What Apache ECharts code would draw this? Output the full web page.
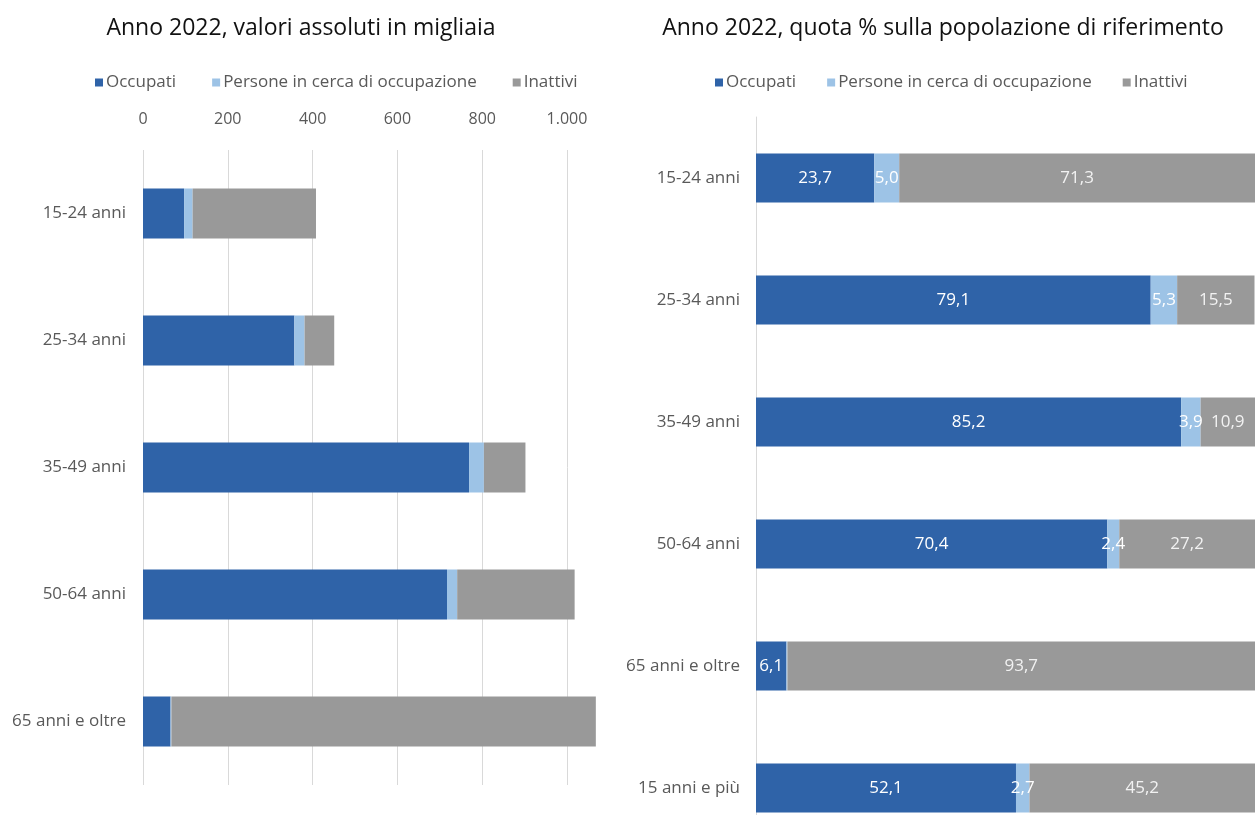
<!DOCTYPE html>
<html>
<head>
<meta charset="utf-8">
<script src="https://cdn.jsdelivr.net/npm/echarts@6/dist/echarts.min.js"></script>
<style>
  html, body { margin: 0; padding: 0; background: #ffffff; overflow: hidden; }
  #chart { width: 1255px; height: 860px; }
</style>
</head>
<body>
<div id="chart"></div>
<script>
// Age classes
const absCategories = ['15-24 anni', '25-34 anni', '35-49 anni', '50-64 anni', '65 anni e oltre'];
const pctCategories = ['15-24 anni', '25-34 anni', '35-49 anni', '50-64 anni', '65 anni e oltre', '15 anni e più'];

// Absolute values, thousands
const absOccupati = [97, 357, 769, 717, 65];
const absCerca = [20, 24, 35, 24, 2];
const absInattivi = [291, 70, 98, 277, 1001];

// Share of reference population, %
const pctOccupati = [23.7, 79.1, 85.2, 70.4, 6.1, 52.1];
const pctCerca = [5.0, 5.3, 3.9, 2.4, 0.2, 2.7];
const pctInattivi = [71.3, 15.5, 10.9, 27.2, 93.7, 45.2];

const absTicks = [0, 200, 400, 600, 800, 1000];
const seriesNames = ['Occupati', 'Persone in cerca di occupazione', 'Inattivi'];

const colors = ['#2f63a8', '#9dc3e6', '#999999'];
const labelColors = ['#ffffff', '#ffffff', '#f2f2f2'];
const FONT = '"Open Sans", "Noto Sans", sans-serif';
const textGrey = '#595959';

const itNumber = v => {
  const s = String(Math.round(v));
  return s.replace(/\B(?=(\d{3})+(?!\d))/g, '.');
};
const itDecimal = v => v.toFixed(1).replace('.', ',');

const chart = echarts.init(document.getElementById('chart'), null, { renderer: 'canvas' });

function absSeries(i, data) {
  return {
    name: seriesNames[i], type: 'bar', stack: 'abs',
    xAxisIndex: 0, yAxisIndex: 0,
    barWidth: 50, clip: false,
    itemStyle: { color: colors[i] },
    emphasis: { disabled: true },
    data: data
  };
}
function pctSeries(i, data) {
  return {
    name: seriesNames[i], type: 'bar', stack: 'pct',
    xAxisIndex: 1, yAxisIndex: 1,
    barWidth: 49,
    itemStyle: { color: colors[i] },
    emphasis: { disabled: true },
    label: {
      show: true, position: 'inside',
      color: labelColors[i], fontFamily: FONT, fontSize: 17,
      formatter: p => (p.value < 1 ? '' : itDecimal(p.value))
    },
    labelLayout: { hideOverlap: false },
    data: data
  };
}

const legendBase = {
  data: seriesNames,
  icon: 'rect', itemWidth: 8, itemHeight: 8, itemGap: 30,
  textStyle: { color: textGrey, fontFamily: FONT, fontSize: 17, padding: [0, 0, 0, -2] },
  selectedMode: false,
  top: 69
};

chart.setOption({
  animation: false,
  textStyle: { fontFamily: FONT },
  title: [
    { text: 'Anno 2022, valori assoluti in migliaia', left: 296, top: 12, textAlign: 'center',
      textStyle: { fontFamily: FONT, fontSize: 23, fontWeight: 'normal', color: '#111111' } },
    { text: 'Anno 2022, quota % sulla popolazione di riferimento', left: 938, top: 12, textAlign: 'center',
      textStyle: { fontFamily: FONT, fontSize: 23, fontWeight: 'normal', color: '#111111' } }
  ],
  legend: [
    Object.assign({}, legendBase, { left: 90, itemGap: 36 }),
    Object.assign({}, legendBase, { left: 710, itemGap: 31 })
  ],
  grid: [
    { left: 143, top: 150, width: 424, height: 635 },
    { left: 756, top: 117, width: 502, height: 732 }
  ],
  xAxis: [
    {
      type: 'value', gridIndex: 0, position: 'top',
      min: absTicks[0], max: absTicks[absTicks.length - 1], interval: absTicks[1] - absTicks[0],
      axisLine: { show: false }, axisTick: { show: false },
      axisLabel: { color: textGrey, fontFamily: FONT, fontSize: 16, margin: 23, formatter: itNumber },
      splitLine: { show: true, lineStyle: { color: '#d9d9d9', width: 1 } }
    },
    {
      type: 'value', gridIndex: 1, min: 0, max: 100,
      show: false, splitLine: { show: false }
    }
  ],
  yAxis: [
    {
      type: 'category', gridIndex: 0, data: absCategories, inverse: true,
      axisLine: { show: false }, axisTick: { show: false },
      axisLabel: { color: textGrey, fontFamily: FONT, fontSize: 17, margin: 17 }
    },
    {
      type: 'category', gridIndex: 1, data: pctCategories, inverse: true,
      axisLine: { show: true, lineStyle: { color: '#d9d9d9', width: 1 } },
      axisTick: { show: false },
      axisLabel: { color: textGrey, fontFamily: FONT, fontSize: 17, margin: 16 }
    }
  ],
  series: [
    absSeries(0, absOccupati),
    absSeries(1, absCerca),
    absSeries(2, absInattivi),
    pctSeries(0, pctOccupati),
    pctSeries(1, pctCerca),
    pctSeries(2, pctInattivi)
  ]
});
</script>
</body>
</html>
